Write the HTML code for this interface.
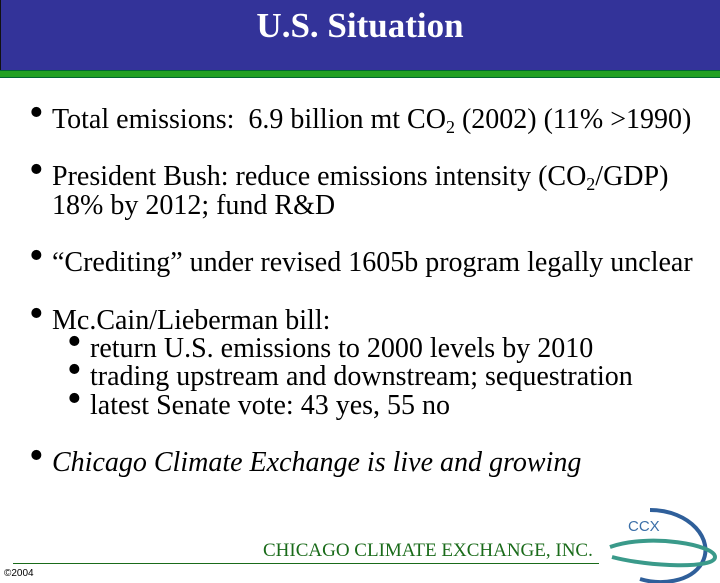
<!DOCTYPE html>
<html><head><meta charset="utf-8"><style>
body{margin:0;width:720px;height:583px;background:#fff;position:relative;overflow:hidden;font-family:"Liberation Serif",serif;}
.t{position:absolute;font-size:28px;color:#000;white-space:nowrap;line-height:1}
.b{position:absolute;font-size:42px;line-height:1}
sub{font-size:18px;vertical-align:-5px;line-height:0}
</style></head><body>
<div style="position:absolute;left:0;top:0;width:720px;height:70px;background:#333399;border-left:1px solid #111;box-sizing:border-box"></div>
<div style="position:absolute;left:0;top:70px;width:720px;height:8px;background:#22a022;border-top:1px solid #063;border-bottom:1px solid #063;box-sizing:border-box"></div>
<div style="position:absolute;left:0;top:6px;width:720px;text-align:center;color:#fff;font-weight:bold;font-size:35px;line-height:40px">U.S. Situation</div>

<div class="b" style="left:29px;top:92px">•</div>
<div class="t" style="left:52px;top:106px">Total emissions:&nbsp; 6.9 billion mt CO<sub>2</sub> (2002) (11% &gt;1990)</div>
<div class="b" style="left:29px;top:149px">•</div>
<div class="t" style="left:52px;top:163px">President Bush: reduce emissions intensity (CO<sub>2</sub>/GDP)</div>
<div class="t" style="left:52px;top:192px">18% by 2012; fund R&amp;D</div>
<div class="b" style="left:29px;top:235px">•</div>
<div class="t" style="left:52px;top:249px">“Crediting” under revised 1605b program legally unclear</div>
<div class="b" style="left:29px;top:293px">•</div>
<div class="t" style="left:52px;top:307px">Mc.Cain/Lieberman bill:</div>
<div class="b" style="left:67px;top:321px">•</div>
<div class="t" style="left:90px;top:335px">return U.S. emissions to 2000 levels by 2010</div>
<div class="b" style="left:67px;top:349px">•</div>
<div class="t" style="left:90px;top:363px">trading upstream and downstream; sequestration</div>
<div class="b" style="left:67px;top:378px">•</div>
<div class="t" style="left:90px;top:392px">latest Senate vote: 43 yes, 55 no</div>
<div class="b" style="left:29px;top:435px">•</div>
<div class="t" style="left:52px;top:449px"><i>Chicago Climate Exchange is live and growing</i></div>

<div style="position:absolute;left:13px;top:563px;width:586px;height:1px;background:#1a6b1a"></div>
<div style="position:absolute;left:263px;top:540px;font-size:19px;color:#1a6b1a;white-space:nowrap;line-height:22px">CHICAGO CLIMATE EXCHANGE, INC.</div>
<div style="position:absolute;left:4px;top:568px;font-family:'Liberation Sans',sans-serif;font-size:10px;color:#000">©2004</div>
<svg style="position:absolute;left:590px;top:505px" width="130" height="78">
<text x="38" y="26" font-family="Liberation Sans,sans-serif" font-size="15" fill="#3b6fa8">CCX</text>
<path d="M60,5 C100,5 125,35 112,58 C100,78 70,80 50,74" fill="none" stroke="#2f5f9a" stroke-width="4"/>
<path d="M20,42 C60,28 125,40 125,52 C125,64 60,62 22,52" fill="none" stroke="#3a9a8a" stroke-width="4"/>
</svg>
</body></html>
